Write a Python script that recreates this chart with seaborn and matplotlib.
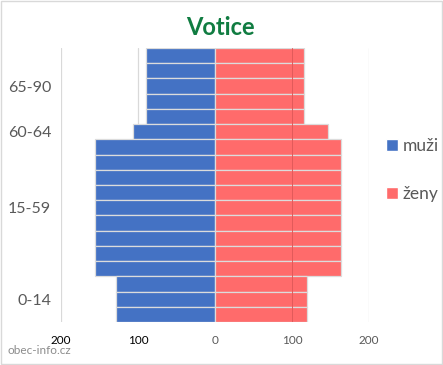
import numpy as np
import pandas as pd
import matplotlib
matplotlib.use("Agg")
import matplotlib.pyplot as plt
from matplotlib.patches import Patch, Rectangle
import seaborn as sns

# skupiny od shora (kategorie seaborn jdou shora dolu)
skupiny = ["65-90", "60-64", "15-59", "0-14"]
pruhy = [5, 1, 9, 3]          # pocet 5letych pruhu v kazde skupine
muzi = [89, 106, 156, 129]
zeny = [116, 147, 163, 119]
tick_hodnoty = [-200, -100, 0, 100, 200]
tick_popisky = ["200", "100", "0", "100", "200"]

MODRA = "#4472C4"
CERVENA = "#FF6B6B"

rows = []
i = 0
for sk, n, m, z in zip(skupiny, pruhy, muzi, zeny):
    for k in range(n):
        rows.append({"pruh": f"p{i}", "skupina": sk, "muzi": -m, "zeny": z})
        i += 1
df = pd.DataFrame(rows)

sns.set_theme(style="white")
plt.rcParams["font.family"] = ["Lato", "DejaVu Sans"]

fig = plt.figure(figsize=(4.43, 3.65), dpi=100)
ax = fig.add_axes([61 / 443, 1 - 322 / 365, 308 / 443, 274 / 365])

for x in tick_hodnoty:
    if x != 0:
        ax.axvline(x, color="#d9d9d9", lw=0.9, zorder=0)

sns.barplot(data=df, y="pruh", x="muzi", orient="h", color=MODRA, width=1,
            edgecolor="#dcdcdc", linewidth=0.9, saturation=1, ax=ax, zorder=2)
sns.barplot(data=df, y="pruh", x="zeny", orient="h", color=CERVENA, width=1,
            edgecolor="#dcdcdc", linewidth=0.9, saturation=1, ax=ax, zorder=2)
# mrizka na 100 je videt skrz cervene pruhy
ax.axvline(100, color="#e25a5a", lw=0.7, zorder=3)

ax.set_xlim(-200, 200)
ax.set_ylim(len(df) - 0.5, -0.5)
ax.set_xlabel("")
ax.set_ylabel("")

# popisky skupin na stredu
hranice = np.cumsum([0] + pruhy)
stredy = [(hranice[j] + hranice[j + 1]) / 2 - 0.5 for j in range(len(skupiny))]
ax.set_yticks(stredy)
ax.set_yticklabels(skupiny, fontsize=11.5, color="#595959")
ax.tick_params(axis="y", length=0, pad=7)

ax.set_xticks(tick_hodnoty)
ax.set_xticklabels(tick_popisky, fontsize=8.5)
for lab, x in zip(ax.get_xticklabels(), tick_hodnoty):
    lab.set_color("#000000" if x < 0 else "#595959")
ax.tick_params(axis="x", length=0, pad=9)

for s in ax.spines.values():
    s.set_visible(False)

fig.suptitle("Votice", x=0.497, y=0.955, fontsize=17, fontweight="bold", color="#107c41")

handles = [Patch(facecolor=MODRA, label="muži"), Patch(facecolor=CERVENA, label="ženy")]
fig.legend(handles=handles, loc="center left", bbox_to_anchor=(0.835, 0.535),
           frameon=False, fontsize=12.5, handlelength=0.7, handleheight=0.7,
           handletextpad=0.3, labelspacing=1.85, labelcolor="#595959")

fig.text(8 / 443, 1 - 350 / 365, "obec-info.cz", fontsize=8.5, color="#8c8c8c", va="center")
fig.patches.append(Rectangle((0.002, 0.003), 0.995, 0.993, transform=fig.transFigure,
                             fill=False, edgecolor="#d9d9d9", lw=1))

fig.savefig("out.png", dpi=100)
